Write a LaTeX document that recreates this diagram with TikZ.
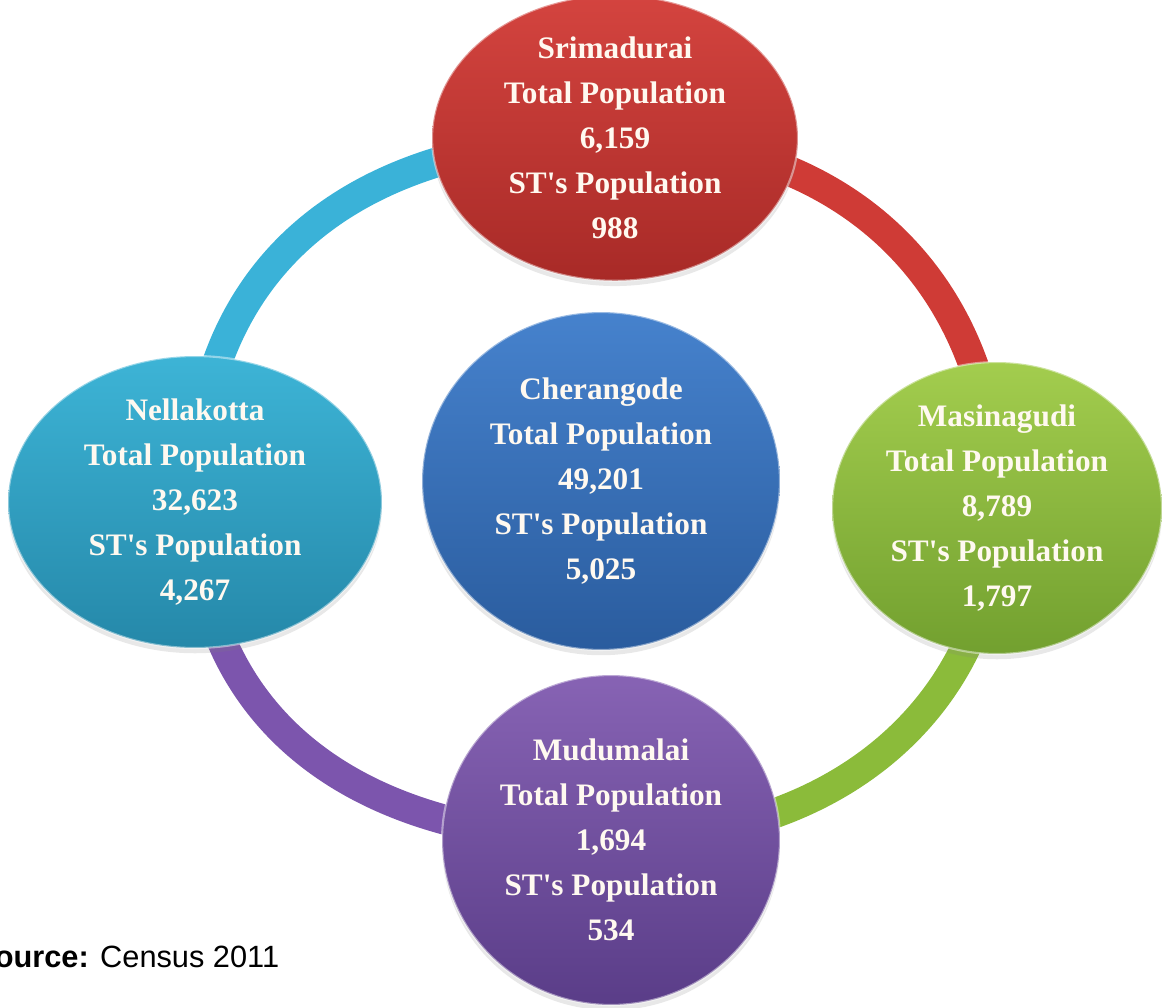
\documentclass[tikz,border=0pt]{standalone}
\usepackage{fontspec}
\setmainfont{Liberation Serif}
\newfontfamily\srcfont{Liberation Sans}
\usepackage{tikz}
\usetikzlibrary{shapes.geometric}
\usetikzlibrary{shadows}
\usetikzlibrary{backgrounds}

% Colours of the villages and their ring parts
\definecolor{sriTop}{HTML}{D4443F}
\definecolor{sriBot}{HTML}{A82A27}
\definecolor{sriRing}{HTML}{CF3B36}
\definecolor{nelTop}{HTML}{3DB4D6}
\definecolor{nelBot}{HTML}{2588A9}
\definecolor{nelRing}{HTML}{3AB2D8}
\definecolor{cheTop}{HTML}{4682CD}
\definecolor{cheBot}{HTML}{2A5C9E}
\definecolor{masTop}{HTML}{A3CD4E}
\definecolor{masBot}{HTML}{72A02F}
\definecolor{masRing}{HTML}{8BBB3A}
\definecolor{mudTop}{HTML}{8763B4}
\definecolor{mudBot}{HTML}{5A3D88}
\definecolor{mudRing}{HTML}{7C55AD}
\definecolor{labelText}{HTML}{FFF9F0}

\newcommand{\stpop}{ST\textquotesingle s Population}

\tikzset{
    village/.style n args={4}{ellipse, minimum width=#1, minimum height=#2, inner sep=0pt,
        top color=#3, bottom color=#4, draw=white, draw opacity=0.45, line width=1.2pt,
        text=labelText, align=center, font=\bfseries\fontsize{17.8}{25.6}\selectfont,
        drop shadow={opacity=0.18, shadow xshift=0pt, shadow yshift=-3pt}},
    band/.style={line width=17pt, draw=#1, line cap=butt},
}

\begin{document}
\begin{tikzpicture}[x=0.02cm, y=-0.02cm]
    % Fix the page to the picture
    \useasboundingbox (0,0) rectangle (1162,1007);

    % Draw the villages
    \node[village={7.32cm}{5.6cm}{sriTop}{sriBot}] (sri) at (615,138)
        {Srimadurai\\Total Population\\6,159\\\stpop\\988};
    \node[village={7.48cm}{5.8cm}{nelTop}{nelBot}] (nel) at (195,502)
        {Nellakotta\\Total Population\\32,623\\\stpop\\4,267};
    \node[village={7.16cm}{6.76cm}{cheTop}{cheBot}] (che) at (601,481)
        {Cherangode\\Total Population\\49,201\\\stpop\\5,025};
    \node[village={6.6cm}{5.84cm}{masTop}{masBot}] (mas) at (997,508)
        {Masinagudi\\Total Population\\8,789\\\stpop\\1,797};
    \node[village={6.76cm}{6.6cm}{mudTop}{mudBot}] (mud) at (611,840)
        {Mudumalai\\Total Population\\1,694\\\stpop\\534};

    % Draw the ring behind them
    \begin{scope}[on background layer]
        \draw[band=nelRing] (sri.center) .. controls +(-261,0) and +(0,-237) .. (nel.center);
        \draw[band=sriRing] (sri.center) .. controls +(232,0) and +(0,-224) .. (mas.center);
        \draw[band=masRing] (mas.center) .. controls +(0,181) and +(243,0) .. (mud.center);
        \draw[band=mudRing] (nel.center) .. controls +(0,208) and +(-267,0) .. (mud.center);
    \end{scope}

    % Source line
    \node[anchor=base west, inner sep=0pt, font=\srcfont\fontsize{17.5}{21}\selectfont] (source) at (-26,967)
        {\textbf{Source:} Census 2011};
\end{tikzpicture}
\end{document}
